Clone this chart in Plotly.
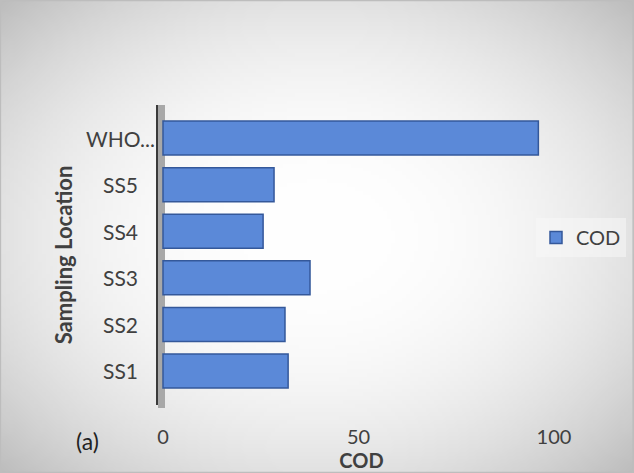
import base64
import struct
import zlib

import numpy as np
import plotly.graph_objects as go

# ---- data -------------------------------------------------------------
locations = ["SS1", "SS2", "SS3", "SS4", "SS5", "WHO..."]
cod_values = [32.0, 31.2, 37.6, 25.6, 28.4, 96.0]
x_ticks = [0, 50, 100]
x_tick_labels = ["0", "50", "100"]

# ---- figure geometry ---------------------------------------------------
W, H = 634, 473
M_L, M_R, M_T, M_B = 158, 69, 105, 68
PLOT_W = W - M_L - M_R
PLOT_H = H - M_T - M_B

FONT = "Lato"
TEXT = "#404040"


def radial_background(w=160, h=120, edge=188, power=2.4):
    """Grey radial gradient (white centre, grey corners) as a PNG data URI."""
    yy, xx = np.mgrid[0:h, 0:w]
    dx = (xx + 0.5 - w / 2) / (w / 2)
    dy = (yy + 0.5 - h / 2) / (h / 2)
    d = np.clip(np.sqrt(dx ** 2 + dy ** 2) / np.sqrt(2), 0, 1)
    img = (255 - (255 - edge) * d ** power).astype(np.uint8)
    raw = b"".join(b"\x00" + row.tobytes() for row in img)

    def chunk(tag, data):
        body = tag + data
        return struct.pack(">I", len(data)) + body + struct.pack(">I", zlib.crc32(body) & 0xFFFFFFFF)

    png = (b"\x89PNG\r\n\x1a\n"
           + chunk(b"IHDR", struct.pack(">IIBBBBB", w, h, 8, 0, 0, 0, 0))
           + chunk(b"IDAT", zlib.compress(raw, 9))
           + chunk(b"IEND", b""))
    return "data:image/png;base64," + base64.b64encode(png).decode()


fig = go.Figure()

fig.add_trace(go.Bar(
    y=locations,
    x=cod_values,
    orientation="h",
    name="COD",
    width=0.73,
    marker=dict(color="#5b89d8", line=dict(color="#34589a", width=1.5)),
))

# x-axis: 0 sits a few pixels right of the wall
px_per_unit = 3.91
x_min = -5 / px_per_unit
x_max = x_min + PLOT_W / px_per_unit

fig.update_xaxes(
    range=[x_min, x_max],
    tickvals=x_ticks,
    ticktext=x_tick_labels,
    showgrid=False,
    zeroline=False,
    showline=False,
    ticks="",
    ticklabelstandoff=18,
    tickfont=dict(family=FONT, size=20, color=TEXT),
    title=dict(text="<b>COD</b>", font=dict(family=FONT, size=20, color=TEXT), standoff=0),
)

fig.update_yaxes(
    type="category",
    categoryorder="array",
    categoryarray=locations,
    range=[-0.73, 5.71],
    showgrid=False,
    zeroline=False,
    showline=True,
    linecolor="#3a3a3a",
    linewidth=2,
    showticklabels=False,
    ticks="",
    title=dict(text="<b>Sampling Location</b>", font=dict(family=FONT, size=22, color=TEXT), standoff=77),
)

# centred category labels
annotations = [
    dict(x=(120 - M_L) / PLOT_W, xref="paper", y=loc, yref="y", text=loc,
         showarrow=False, xanchor="center", yanchor="middle",
         font=dict(family=FONT, size=21, color=TEXT))
    for loc in locations
]
annotations.append(dict(
    x=(87 - M_L) / PLOT_W, xref="paper", y=(M_T + PLOT_H - 441) / PLOT_H, yref="paper",
    text="(a)", showarrow=False, xanchor="center", yanchor="middle",
    font=dict(family=FONT, size=23, color="#222222"),
))

shapes = [
    # side wall behind the bars
    dict(type="rect", xref="paper", yref="paper", x0=0, x1=7 / PLOT_W, y0=-0.01, y1=1.0,
         fillcolor="#a8a8a8", line=dict(width=0), layer="below"),
    # chart frame
    dict(type="rect", xref="paper", yref="paper",
         x0=-M_L / PLOT_W + 0.001, x1=(W - M_L) / PLOT_W - 0.002,
         y0=-M_B / PLOT_H + 0.002, y1=(H - M_B) / PLOT_H - 0.002,
         line=dict(color="#bdbdbd", width=1.5), fillcolor="rgba(0,0,0,0)", layer="below"),
]

fig.update_layout(
    width=W,
    height=H,
    margin=dict(l=M_L, r=M_R, t=M_T, b=M_B, autoexpand=False),
    paper_bgcolor="white",
    plot_bgcolor="rgba(0,0,0,0)",
    showlegend=True,
    legend=dict(
        x=(536 - M_L) / PLOT_W, xanchor="left",
        y=(M_T + PLOT_H - 218) / PLOT_H, yanchor="top",
        bgcolor="rgba(248,248,248,0.55)",
        itemwidth=30,
        font=dict(family=FONT, size=20, color=TEXT),
    ),
    images=[dict(
        source=radial_background(),
        xref="paper", yref="paper",
        x=-M_L / PLOT_W, y=1 + M_T / PLOT_H,
        sizex=W / PLOT_W, sizey=H / PLOT_H,
        xanchor="left", yanchor="top",
        sizing="stretch", layer="below",
    )],
    annotations=annotations,
    shapes=shapes,
    bargap=0.27,
)

fig.write_html("out.html")
